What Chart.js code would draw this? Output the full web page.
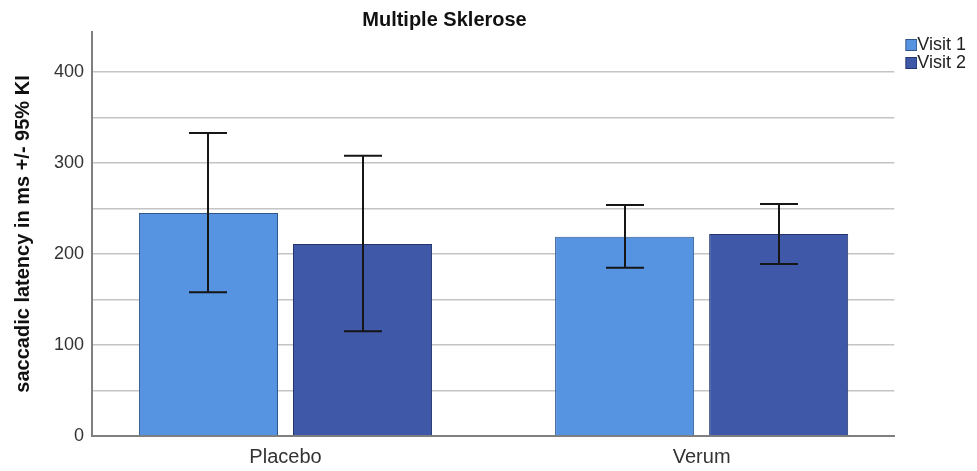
<!DOCTYPE html>
<html>
<head>
<meta charset="utf-8">
<script src="https://cdn.jsdelivr.net/npm/chart.js@4"></script>
<style>
  html, body { margin: 0; padding: 0; background: #ffffff; }
  #wrap { width: 977px; height: 471px; position: relative; }
</style>
</head>
<body>
<div id="wrap"><canvas id="c" width="977" height="471"></canvas></div>
<script>
// ---- data ----
const chartTitle = 'Multiple Sklerose';
const yAxisTitle = 'saccadic latency in ms +/- 95% KI';
const categories = ['Placebo', 'Verum'];
const categoryPos = [1, 2];
const seriesNames = ['Visit 1', 'Visit 2'];
const visit1Mean = [245, 219];
const visit1Low  = [158, 185];
const visit1High = [333, 254];
const visit2Mean = [211, 222];
const visit2Low  = [115, 189];
const visit2High = [308, 255];
const yTickValues = [0, 100, 200, 300, 400];

// ---- styles ----
const FONT = "'Liberation Sans', Arial, sans-serif";
const fills   = ['#5693E1', '#3F59A8'];
const borders = ['#31568A', '#24356D'];

function toPoints(vals) { return vals.map((v, i) => ({ x: categoryPos[i], y: v })); }

function swatch(fill, stroke) {
  const c = document.createElement('canvas');
  c.width = 32; c.height = 12;
  const g = c.getContext('2d');
  g.fillStyle = fill; g.fillRect(20, 0, 12, 12);
  g.strokeStyle = stroke; g.lineWidth = 1; g.strokeRect(20.5, 0.5, 11, 11);
  return c;
}

const errorBars = {
  id: 'errorBars',
  afterDatasetsDraw(chart) {
    const ctx = chart.ctx, ys = chart.scales.y;
    ctx.save();
    ctx.strokeStyle = '#161616';
    ctx.lineWidth = 2;
    chart.data.datasets.forEach((ds, di) => {
      const meta = chart.getDatasetMeta(di);
      meta.data.forEach((bar, i) => {
        const x = Math.round(bar.x);
        const lo = ys.getPixelForValue(ds.ciLow[i]);
        const hi = ys.getPixelForValue(ds.ciHigh[i]);
        ctx.beginPath();
        ctx.moveTo(x, lo); ctx.lineTo(x, hi);
        ctx.moveTo(x - 19, lo); ctx.lineTo(x + 19, lo);
        ctx.moveTo(x - 19, hi); ctx.lineTo(x + 19, hi);
        ctx.stroke();
      });
    });
    ctx.restore();
  }
};

const titleShift = {
  id: 'titleShift',
  afterLayout(chart) {
    const t = chart.titleBlock;
    if (t) { t.left = 0; t.right = 889; t.width = 889; }
  }
};

new Chart(document.getElementById('c'), {
  type: 'bar',
  data: {
    datasets: [
      { label: seriesNames[0], data: toPoints(visit1Mean), ciLow: visit1Low, ciHigh: visit1High,
        backgroundColor: fills[0], borderColor: borders[0], borderWidth: 1 },
      { label: seriesNames[1], data: toPoints(visit2Mean), ciLow: visit2Low, ciHigh: visit2High,
        backgroundColor: fills[1], borderColor: borders[1], borderWidth: 1 }
    ]
  },
  options: {
    responsive: false,
    animation: false,
    devicePixelRatio: 1,
    categoryPercentage: 0.7404,
    barPercentage: 0.9026,
    layout: { padding: { top: 0, right: 1, bottom: 0, left: 0 } },
    plugins: {
      tooltip: { enabled: false },
      title: {
        display: true, text: chartTitle, color: '#111',
        font: { family: FONT, size: 20, weight: 'bold' },
        padding: { top: 8, bottom: 0 }
      },
      legend: {
        position: 'right', align: 'start',
        title: { display: true, text: '', font: { size: 0 }, padding: { top: 36, bottom: 0 } },
        labels: {
          usePointStyle: true, pointStyleWidth: 14, boxHeight: 12, padding: 0,
          color: '#222', font: { family: FONT, size: 18 },
          generateLabels(chart) {
            const items = Chart.defaults.plugins.legend.labels.generateLabels(chart);
            items.forEach((it, i) => { it.pointStyle = swatch(fills[i], borders[i]); });
            return items;
          }
        }
      }
    },
    scales: {
      x: {
        type: 'linear', min: 0.535, max: 2.463, offset: false,
        afterBuildTicks(s) { s.ticks = categoryPos.map(v => ({ value: v })); },
        afterFit(s) { s.height = 35; },
        grid: { display: false, drawTicks: false },
        border: { display: true, color: '#7f7f7f', width: 2 },
        ticks: {
          autoSkip: false, maxRotation: 0, padding: 9, color: '#333',
          font: { family: FONT, size: 20 },
          callback(v, i) { return categories[i]; }
        }
      },
      y: {
        min: 0, max: 444,
        afterFit(s) { s.width = 92; },
        grid: { color: '#c4c4c4', lineWidth: 1.5, drawTicks: false },
        border: { display: true, color: '#7f7f7f', width: 2 },
        ticks: {
          stepSize: 50, includeBounds: false, padding: 8, color: '#333',
          font: { family: FONT, size: 18 },
          callback(v) { return yTickValues.includes(v) ? String(v) : ''; }
        },
        title: {
          display: true, text: yAxisTitle, color: '#111',
          font: { family: FONT, size: 20, weight: 'bold' },
          padding: { top: 11, bottom: 0 }
        }
      }
    }
  },
  plugins: [errorBars, titleShift]
});
</script>
</body>
</html>
